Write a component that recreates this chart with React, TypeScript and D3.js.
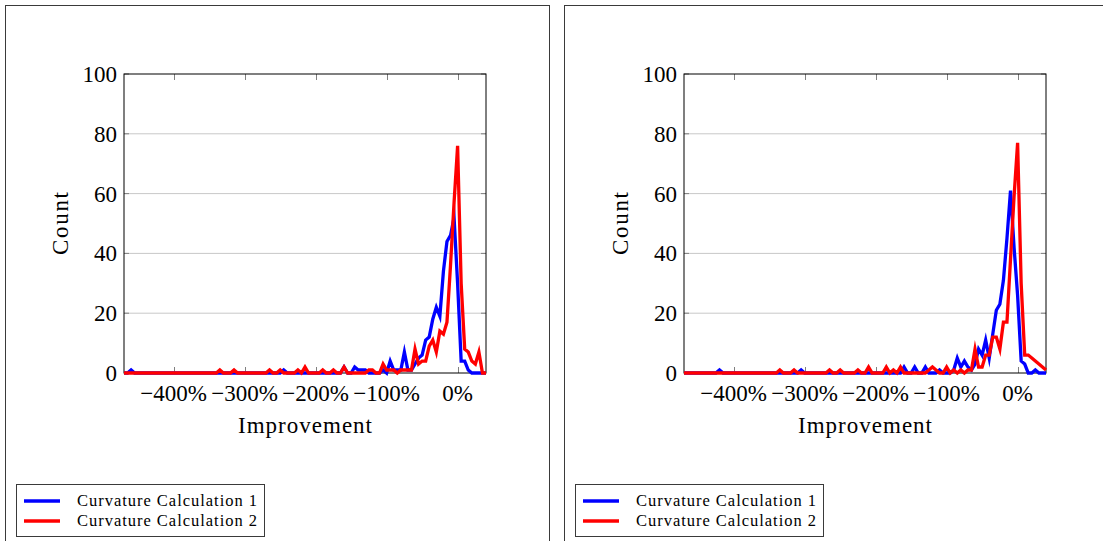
import React from 'react';
import * as d3 from 'd3';

// Histogram bin centres (percent improvement)
const BINS = [
  -470, -465, -460, -455, -450, -445, -440, -435, -430, -425,
  -420, -415, -410, -405, -400, -395, -390, -385, -380, -375,
  -370, -365, -360, -355, -350, -345, -340, -335, -330, -325,
  -320, -315, -310, -305, -300, -295, -290, -285, -280, -275,
  -270, -265, -260, -255, -250, -245, -240, -235, -230, -225,
  -220, -215, -210, -205, -200, -195, -190, -185, -180, -175,
  -170, -165, -160, -155, -150, -145, -140, -135, -130, -125,
  -120, -115, -110, -105, -100, -95, -90, -85, -80, -75,
  -70, -65, -60, -55, -50, -45, -40, -35, -30, -25,
  -20, -15, -10, -5, 0, 5, 10, 15, 20, 25,
  30, 35, 40,
];

const LEFT_CALC1 = [
  0, 0, 1, 0, 0, 0, 0, 0, 0, 0,
  0, 0, 0, 0, 0, 0, 0, 0, 0, 0,
  0, 0, 0, 0, 0, 0, 0, 0, 0, 0,
  0, 0, 0, 0, 0, 0, 0, 0, 0, 0,
  0, 0, 0, 0, 0, 1, 0, 0, 0, 0,
  0, 0, 0, 0, 0, 0, 0, 0, 0, 0,
  0, 0, 2, 0, 0, 2, 1, 1, 1, 0,
  0, 0, 0, 1, 0, 4, 1, 1, 1, 7,
  1, 1, 3, 5, 6, 11, 12, 18, 22, 19,
  34, 44, 46, 52, 30, 4, 4, 1, 0, 0,
  0, 0, 0,
];

const LEFT_CALC2 = [
  0, 0, 0, 0, 0, 0, 0, 0, 0, 0,
  0, 0, 0, 0, 0, 0, 0, 0, 0, 0,
  0, 0, 0, 0, 0, 0, 0, 1, 0, 0,
  0, 1, 0, 0, 0, 0, 0, 0, 0, 0,
  0, 1, 0, 0, 1, 0, 0, 0, 0, 1,
  0, 2, 0, 0, 0, 0, 1, 0, 0, 1,
  0, 0, 2, 0, 0, 0, 0, 0, 0, 1,
  1, 0, 0, 3, 1, 1, 1, 0, 1, 1,
  1, 1, 8, 3, 4, 4, 9, 11, 7, 14,
  13, 17, 36, 57, 76, 30, 8, 7, 4, 3,
  7, 0, 0,
];

const RIGHT_CALC1 = [
  0, 0, 0, 0, 0, 0, 0, 0, 0, 0,
  1, 0, 0, 0, 0, 0, 0, 0, 0, 0,
  0, 0, 0, 0, 0, 0, 0, 0, 0, 0,
  0, 0, 0, 1, 0, 0, 0, 0, 0, 0,
  0, 0, 0, 0, 0, 0, 0, 0, 0, 0,
  0, 0, 0, 0, 0, 0, 0, 0, 0, 0,
  0, 0, 2, 0, 0, 2, 0, 0, 2, 0,
  0, 0, 1, 0, 0, 0, 1, 5, 2, 4,
  2, 1, 3, 8, 6, 11, 5, 13, 21, 23,
  31, 45, 61, 42, 26, 4, 3, 0, 0, 1,
  0, 0, 0,
];

const RIGHT_CALC2 = [
  0, 0, 0, 0, 0, 0, 0, 0, 0, 0,
  0, 0, 0, 0, 0, 0, 0, 0, 0, 0,
  0, 0, 0, 0, 0, 0, 0, 1, 0, 0,
  0, 1, 0, 0, 0, 0, 0, 0, 0, 0,
  0, 1, 0, 0, 1, 0, 0, 0, 0, 1,
  0, 0, 2, 0, 0, 0, 0, 2, 0, 1,
  0, 2, 0, 0, 0, 0, 0, 0, 0, 1,
  2, 1, 0, 0, 2, 0, 1, 0, 1, 0,
  1, 1, 8, 2, 2, 6, 6, 12, 12, 8,
  17, 17, 38, 59, 77, 30, 6, 6, 5, 4,
  3, 2, 1,
];

const X_TICKS = [-400, -300, -200, -100, 0];
const X_TICK_LABELS = ['−400%', '−300%', '−200%', '−100%', '0%'];
const Y_TICKS = [0, 20, 40, 60, 80, 100];
const Y_GRID = [20, 40, 60, 80];
const SERIES_NAMES = ['Curvature Calculation 1', 'Curvature Calculation 2'];
const SERIES_COLORS = ['#0000ff', '#ff0000'];
const X_LABEL = 'Improvement';
const Y_LABEL = 'Count';

const FONT = "'Liberation Serif', 'Times New Roman', serif";

type PanelProps = { ox: number; frameX: number; legendX: number; s1: number[]; s2: number[] };

function Panel({ ox, frameX, legendX, s1, s2 }: PanelProps) {
  const left = ox + 124;
  const right = ox + 486;
  const top = 74;
  const bottom = 373;
  const x = d3.scaleLinear().domain([-470, 40]).range([left, right]);
  const y = d3.scaleLinear().domain([0, 100]).range([bottom, top]);
  const line = d3
    .line<number>()
    .x((_, i) => x(BINS[i]))
    .y((d) => y(d));
  const series = [s1, s2];
  const cx = (left + right) / 2;
  const cy = (top + bottom) / 2;
  return (
    <g>
      <rect x={frameX + 0.5} y={5.5} width={544} height={600} fill="none" stroke="#3a3a3a" strokeWidth={1} />
      {Y_GRID.map((t) => (
        <line key={'g' + t} x1={left} x2={right} y1={y(t)} y2={y(t)} stroke="#c8c8c8" strokeWidth={1} />
      ))}
      {Y_TICKS.map((t) => (
        <g key={'yt' + t}>
          <line x1={left} x2={left + 5} y1={y(t)} y2={y(t)} stroke="#808080" />
          <line x1={right - 5} x2={right} y1={y(t)} y2={y(t)} stroke="#808080" />
        </g>
      ))}
      {X_TICKS.map((t) => (
        <g key={'xt' + t}>
          <line x1={Math.round(x(t)) + 0.5} x2={Math.round(x(t)) + 0.5} y1={bottom} y2={bottom - 6} stroke="#808080" />
          <line x1={Math.round(x(t)) + 0.5} x2={Math.round(x(t)) + 0.5} y1={top} y2={top + 6} stroke="#808080" />
        </g>
      ))}
      <rect x={left} y={top} width={right - left} height={bottom - top} fill="none" stroke="#000" strokeWidth={1} />
      {series.map((s, k) => (
        <path
          key={'s' + k}
          d={line(s) || ''}
          fill="none"
          stroke={SERIES_COLORS[k]}
          strokeWidth={3.3}
          strokeLinejoin="miter"
          strokeMiterlimit={10}
        />
      ))}
      {Y_TICKS.map((t) => (
        <text key={'yl' + t} x={left - 7} y={y(t) + 8} textAnchor="end" fontFamily={FONT} fontSize={23} fill="#000">
          {t}
        </text>
      ))}
      {X_TICKS.map((t, i) => (
        <text key={'xl' + t} x={x(t)} y={401} textAnchor="middle" fontFamily={FONT} fontSize={23} fill="#000">
          {X_TICK_LABELS[i]}
        </text>
      ))}
      <text x={cx} y={433} textAnchor="middle" fontFamily={FONT} fontSize={23} fill="#000" textLength={134} lengthAdjust="spacing">
        {X_LABEL}
      </text>
      <text
        transform={`translate(${ox + 68},${cy}) rotate(-90)`}
        textAnchor="middle"
        fontFamily={FONT}
        fontSize={23}
        fill="#000"
        textLength={63}
        lengthAdjust="spacing"
      >
        {Y_LABEL}
      </text>
      <g>
        <rect x={legendX + 0.5} y={484.5} width={248} height={52} fill="#fff" stroke="#3a3a3a" strokeWidth={1} />
        {SERIES_NAMES.map((name, k) => (
          <g key={'lg' + k}>
            <line
              x1={legendX + 8}
              x2={legendX + 44}
              y1={501 + k * 20}
              y2={501 + k * 20}
              stroke={SERIES_COLORS[k]}
              strokeWidth={3.3}
            />
            <text
              x={legendX + 61}
              y={506 + k * 20}
              fontFamily={FONT}
              fontSize={16.5}
              fill="#000"
              textLength={180}
              lengthAdjust="spacing"
            >
              {name}
            </text>
          </g>
        ))}
      </g>
    </g>
  );
}

export default function App() {
  return (
    <svg
      width={1103}
      height={541}
      style={{ position: 'absolute', left: 0, top: 0, background: '#fff' }}
      xmlns="http://www.w3.org/2000/svg"
    >
      <rect x={0} y={0} width={1103} height={541} fill="#fff" />
      <Panel ox={0} frameX={5} legendX={16} s1={LEFT_CALC1} s2={LEFT_CALC2} />
      <Panel ox={560} frameX={564} legendX={575} s1={RIGHT_CALC1} s2={RIGHT_CALC2} />
    </svg>
  );
}
